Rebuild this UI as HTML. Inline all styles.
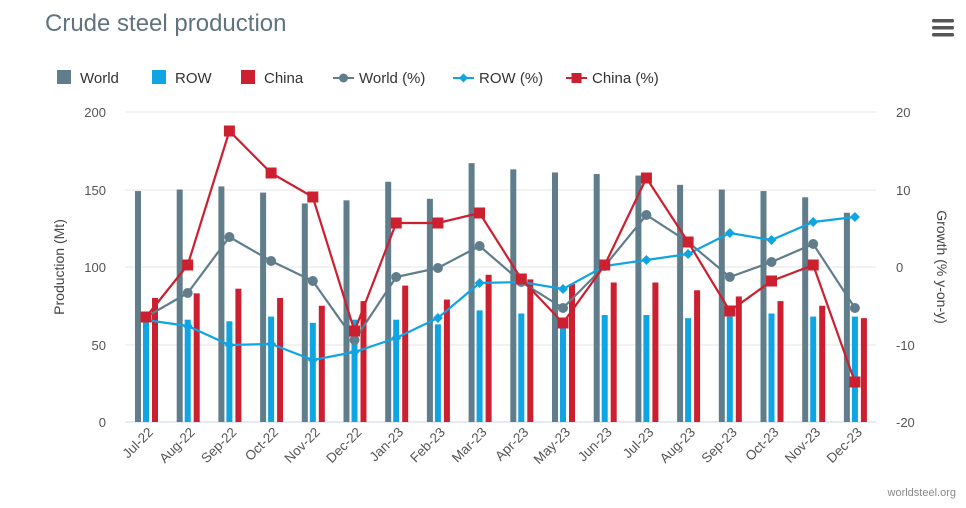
<!DOCTYPE html>
<html><head><meta charset="utf-8"><style>
body{margin:0;background:#fff;}
svg{display:block;font-family:"Liberation Sans","DejaVu Sans",sans-serif;}
</style></head><body>
<svg id="s" width="966" height="508" xmlns="http://www.w3.org/2000/svg">
<text x="45" y="31" font-size="24" fill="#5f7480">Crude steel production</text>
<g fill="#555"><rect x="932" y="19" width="22" height="3.5" rx="1.5"/><rect x="932" y="26" width="22" height="3.5" rx="1.5"/><rect x="932" y="33" width="22" height="3.5" rx="1.5"/></g>
<g font-size="15" fill="#333">
<rect x="57" y="70" width="14" height="14" fill="#607d8b"/><text x="80" y="83">World</text>
<rect x="152" y="70" width="14" height="14" fill="#0ea5e2"/><text x="175" y="83">ROW</text>
<rect x="241" y="70" width="14" height="14" fill="#cc1f2f"/><text x="264" y="83">China</text>
<line x1="333" y1="78" x2="354" y2="78" stroke="#607d8b" stroke-width="2"/><circle cx="343.5" cy="78" r="4.5" fill="#607d8b"/><text x="359" y="83">World (%)</text>
<line x1="453" y1="78" x2="474" y2="78" stroke="#0ea5e2" stroke-width="2"/><path d="M463.5 73.5l4.5 4.5-4.5 4.5-4.5-4.5z" fill="#0ea5e2"/><text x="479" y="83">ROW (%)</text>
<line x1="566" y1="78" x2="587" y2="78" stroke="#cc1f2f" stroke-width="2"/><rect x="571.5" y="73" width="10" height="10" fill="#cc1f2f"/><text x="592" y="83">China (%)</text>
</g>
<g id="grid" stroke="#e3e3e3" stroke-width="1"></g>
<g id="bars"></g>
<g id="lines"></g>
<g id="labels" font-size="13" fill="#555"></g>
<text transform="translate(64,267) rotate(-90)" text-anchor="middle" font-size="14" fill="#444">Production (Mt)</text>
<text transform="translate(937,267) rotate(90)" text-anchor="middle" font-size="14" fill="#444">Growth (% y-on-y)</text>
<text x="956" y="496" text-anchor="end" font-size="11" fill="#888">worldsteel.org</text>
</svg>
<script>
const NS="http://www.w3.org/2000/svg";
function el(p,t,a,txt){const e=document.createElementNS(NS,t);for(const k in a)e.setAttribute(k,a[k]);if(txt!=null)e.textContent=txt;document.getElementById(p).appendChild(e);return e;}
const gy=[112,190,267,345,422];
gy.forEach((y,i)=>{el('grid','line',{x1:125,x2:876,y1:y,y2:y,stroke:i==4?'#ccd6eb':'#e6e6e6'});
el('labels','text',{x:106,y:y+5,'text-anchor':'end'},[200,150,100,50,0][i]);
el('labels','text',{x:896,y:y+5},[20,10,0,-10,-20][i]);});
const cats=["Jul-22","Aug-22","Sep-22","Oct-22","Nov-22","Dec-22","Jan-23","Feb-23","Mar-23","Apr-23","May-23","Jun-23","Jul-23","Aug-23","Sep-23","Oct-23","Nov-23","Dec-23"];
const W=[149,150,152,148,141,143,155,144,167,163,161,160,159,153,150,149,145,135];
const R=[68,66,65,68,64,66,66,63,72,70,63,69,69,67,68,70,68,68];
const C=[80,83,86,80,75,78,88,79,95,92,89,90,90,85,81,78,75,67];
const wp=[317,293,237,261,281,340,277,268,246,282,308,266,215,242,277,262,244,308];
const rp=[320,326,345,344,360,352,338,318,283,282,289,266,260,254,233,240,222,217];
const cp=[317,265,131,173,197,331,223,223,213,279,323,265,178,242,311,281,265,382];
const cx=i=>146+i*41.7;
const Y=v=>422-v*1.55;
cats.forEach((c,i)=>{const x=cx(i);
el('bars','rect',{x:x-11,y:Y(W[i]),width:6,height:W[i]*1.55,fill:'#607d8b'});
el('bars','rect',{x:x-3,y:Y(R[i]),width:6,height:R[i]*1.55,fill:'#0ea5e2'});
el('bars','rect',{x:x+6,y:Y(C[i]),width:6,height:C[i]*1.55,fill:'#cc1f2f'});
el('labels','text',{transform:`translate(${x+8},433) rotate(-45)`,'text-anchor':'end','font-size':'13.5'},c);
});
function line(arr,col){el('lines','polyline',{points:arr.map((y,i)=>cx(i)+','+y).join(' '),fill:'none',stroke:col,'stroke-width':2.2});}
line(wp,'#607d8b');line(rp,'#0ea5e2');line(cp,'#cc1f2f');
wp.forEach((y,i)=>el('lines','circle',{cx:cx(i),cy:y,r:5,fill:'#607d8b'}));
rp.forEach((y,i)=>{const x=cx(i);el('lines','path',{d:`M${x} ${y-5}l5 5-5 5-5-5z`,fill:'#0ea5e2'});});
cp.forEach((y,i)=>el('lines','rect',{x:cx(i)-5.5,y:y-5.5,width:11,height:11,fill:'#cc1f2f'}));
</script>
</body></html>
